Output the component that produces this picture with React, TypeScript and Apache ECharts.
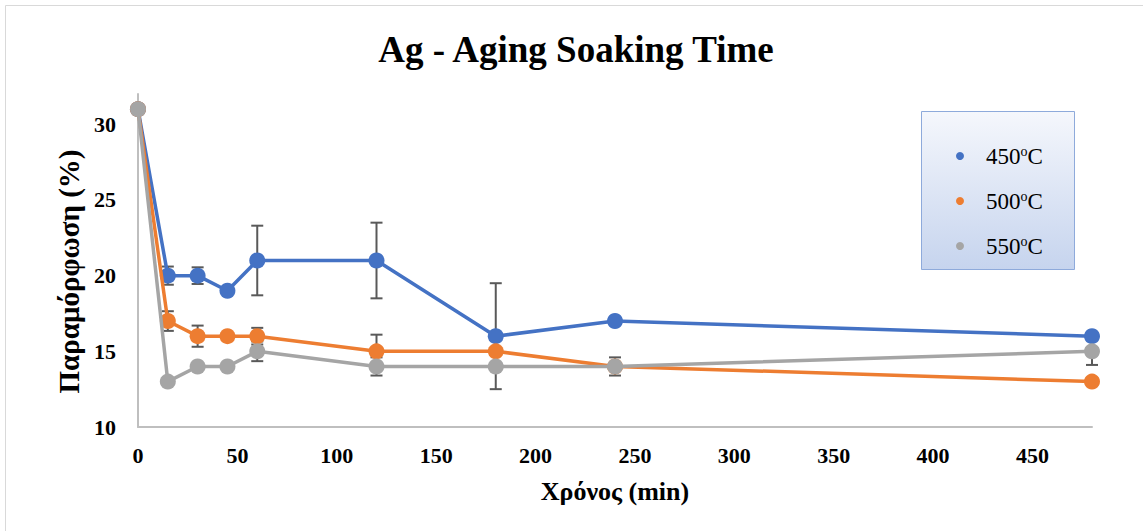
import React, { useEffect, useRef } from "react";
import * as echarts from "echarts";

// Soaking time (min)
const times = [0, 15, 30, 45, 60, 120, 180, 240, 480];
// Deformation (%) per aging temperature
const strain450 = [31, 20, 20, 19, 21, 21, 16, 17, 16];
const strain500 = [31, 17, 16, 16, 16, 15, 15, 14, 13];
const strain550 = [31, 13, 14, 14, 15, 14, 14, 14, 15];
// Error bar half-widths (%)
const err450 = [0, 0.6, 0.55, 0, 2.3, 2.5, 3.5, 0, 0];
const err500 = [0, 0.65, 0.7, 0, 0.55, 1.1, 0, 0, 0];
const err550 = [0, 0, 0, 0, 0.65, 0.6, 0, 0.6, 0.9];

const seriesNames = ["450°C", "500°C", "550°C"];
const colors = ["#4472C4", "#ED7D31", "#A5A5A5"];

const FONT = "Liberation Serif";

function pairs(vals: number[]) {
  return times.map((t, i) => [t, vals[i]]);
}

function errData(vals: number[], errs: number[]) {
  return times
    .map((t, i) => [t, vals[i] - errs[i], vals[i] + errs[i]])
    .filter((_, i) => errs[i] > 0);
}

const renderErr = (params: any, api: any) => {
  const x = api.value(0);
  const top = api.coord([x, api.value(2)]);
  const bot = api.coord([x, api.value(1)]);
  const hw = 6;
  const style = { stroke: "#595959", lineWidth: 2 };
  return {
    type: "group",
    children: [
      { type: "line", shape: { x1: top[0], y1: top[1], x2: bot[0], y2: bot[1] }, style },
      { type: "line", shape: { x1: top[0] - hw, y1: top[1], x2: top[0] + hw, y2: top[1] }, style },
      { type: "line", shape: { x1: bot[0] - hw, y1: bot[1], x2: bot[0] + hw, y2: bot[1] }, style },
    ],
  };
};

export default function App() {
  const ref = useRef<HTMLDivElement>(null);

  useEffect(() => {
    if (!ref.current) return;
    const chart = echarts.init(ref.current, undefined, { renderer: "svg" });
    const values = [strain450, strain500, strain550];
    const errs = [err450, err500, err550];

    const lineSeries = values.map((v, i) => ({
      name: seriesNames[i],
      type: "line",
      data: pairs(v),
      symbol: "circle",
      symbolSize: 16,
      showSymbol: true,
      z: 3 + i,
      lineStyle: { color: colors[i], width: 3.5 },
      itemStyle: { color: colors[i] },
    }));

    const errSeries = values.map((v, i) => ({
      name: seriesNames[i] + " err",
      type: "custom",
      renderItem: renderErr,
      data: errData(v, errs[i]),
      encode: { x: 0, y: [1, 2] },
      z: 2,
      silent: true,
    }));

    chart.setOption({
      animation: false,
      backgroundColor: "#ffffff",
      title: {
        text: "Ag - Aging Soaking Time",
        left: 571,
        textAlign: "center",
        top: 26,
        textStyle: { fontFamily: FONT, fontSize: 37, fontWeight: "bold", color: "#000" },
      },
      graphic: [
        {
          type: "rect",
          shape: { x: 5.5, y: 5.5, width: 1140, height: 530 },
          style: { fill: "none", stroke: "#d9d9d9", lineWidth: 1 },
          silent: true,
        },
        {
          type: "rect",
          shape: { x: 921.5, y: 111.5, width: 153, height: 158 },
          style: {
            fill: new echarts.graphic.LinearGradient(0, 0, 0, 1, [
              { offset: 0, color: "#f5f7fc" },
              { offset: 1, color: "#c6d4ee" },
            ]),
            stroke: "#8eaadb",
            lineWidth: 1,
          },
          z: -1,
          silent: true,
        },
      ],
      legend: {
        data: seriesNames,
        orient: "vertical",
        left: 951,
        top: 139,
        icon: "circle",
        itemWidth: 42,
        itemHeight: 8,
        itemGap: 21.5,
        formatter: (name: string) => name.replace("°C", "{s|o}{t|C}").replace(/^(\d+)/, "{t|$1}"),
        textStyle: {
          fontFamily: FONT,
          fontSize: 23,
          color: "#000",
          rich: {
            t: { fontFamily: FONT, fontSize: 23, color: "#000" },
            s: { fontFamily: FONT, fontSize: 14, color: "#000", padding: [0, 0, 10, 0] },
          },
        },
      },
      grid: { left: 138, right: 51, top: 94, bottom: 104 },
      xAxis: {
        type: "value",
        min: 0,
        max: 480,
        interval: 50,
        name: "Χρόνος (min)",
        nameLocation: "middle",
        nameGap: 51,
        nameTextStyle: { fontFamily: FONT, fontSize: 26, fontWeight: "bold", color: "#000" },
        axisLine: { show: true, lineStyle: { color: "#bfbfbf", width: 2 } },
        axisTick: { show: false },
        splitLine: { show: false },
        axisLabel: {
          showMaxLabel: false,
          margin: 17,
          fontFamily: FONT,
          fontSize: 22,
          fontWeight: "bold",
          color: "#000",
        },
      },
      yAxis: {
        type: "value",
        min: 10,
        max: 32,
        interval: 5,
        name: "Παραμόρφωση (%)",
        nameLocation: "middle",
        nameGap: 41,
        nameTextStyle: {
          fontFamily: FONT,
          fontSize: 29,
          fontWeight: "bold",
          color: "#000",
          padding: [0, 22, 0, 0],
        },
        axisLine: { show: true, lineStyle: { color: "#bfbfbf", width: 2 } },
        axisTick: { show: false },
        splitLine: { show: false },
        axisLabel: {
          showMaxLabel: false,
          margin: 22,
          fontFamily: FONT,
          fontSize: 22,
          fontWeight: "bold",
          color: "#000",
        },
      },
      series: [...errSeries, ...lineSeries],
    });

    return () => chart.dispose();
  }, []);

  return (
    <div
      ref={ref}
      style={{ position: "fixed", left: 0, top: 0, width: 1143, height: 531 }}
    />
  );
}
